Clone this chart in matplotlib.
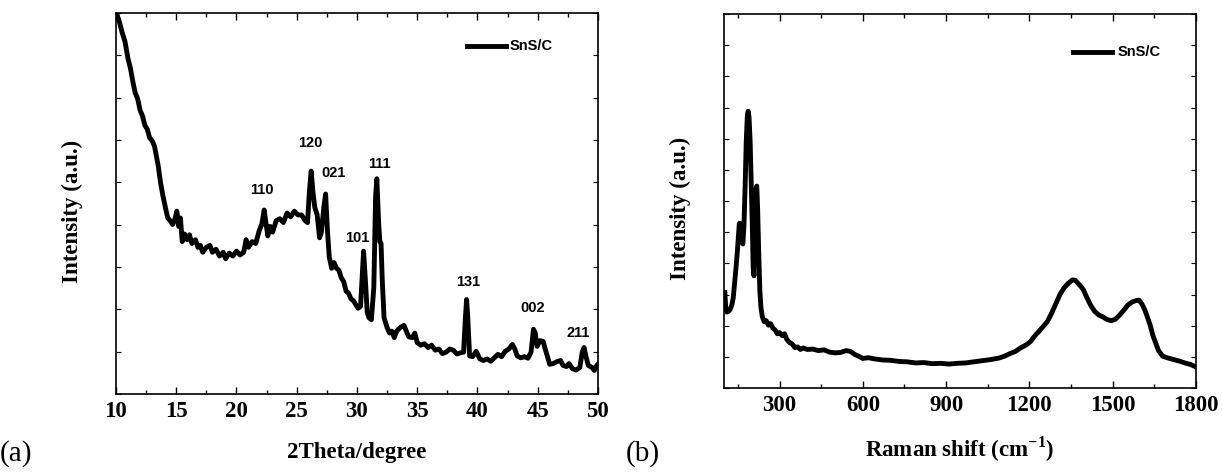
import matplotlib
matplotlib.use("Agg")
import matplotlib.pyplot as plt
from matplotlib.ticker import MultipleLocator, NullFormatter
from matplotlib.font_manager import FontProperties

plt.rcParams["mathtext.fontset"] = "custom"
plt.rcParams["mathtext.rm"] = "Liberation Serif:bold"
plt.rcParams["mathtext.bf"] = "Liberation Serif:bold"

# ---- XRD pattern, panel (a) ----
xrd_2theta = [10.05, 10.3, 10.5, 10.75, 11.0, 11.2, 11.4, 11.6, 11.8, 12.0, 12.2, 12.4, 12.6, 12.8,
              13.0, 13.2, 13.35, 13.5, 13.7, 13.9, 14.1, 14.3, 14.5, 14.7, 14.9, 15.05, 15.2,
              15.35, 15.5, 15.7, 15.9, 16.1, 16.3, 16.6, 16.8, 17.0, 17.2, 17.5, 17.8, 18.0,
              18.3, 18.6, 18.9, 19.1, 19.4, 19.7, 20.0, 20.3, 20.6, 20.8, 21.0, 21.3, 21.6,
              21.9, 22.1, 22.3, 22.45, 22.6, 22.8, 23.0, 23.3, 23.6, 23.9, 24.2, 24.5, 24.8,
              25.1, 25.4, 25.7, 25.9, 26.05, 26.2, 26.35, 26.5, 26.7, 26.9, 27.05, 27.25, 27.4,
              27.55, 27.7, 27.9, 28.1, 28.3, 28.5, 28.7, 28.9, 29.1, 29.3, 29.5, 29.7, 29.9,
              30.1, 30.3, 30.45, 30.55, 30.7, 30.85, 31.0, 31.2, 31.4, 31.55, 31.65, 31.8, 31.9,
              32.0, 32.1, 32.25, 32.5, 32.7, 32.9, 33.1, 33.3, 33.6, 33.9, 34.1, 34.3, 34.6,
              34.8, 35.0, 35.3, 35.6, 35.9, 36.2, 36.5, 36.8, 37.1, 37.4, 37.7, 38.0, 38.3,
              38.6, 38.85, 39.0, 39.1, 39.2, 39.35, 39.6, 39.9, 40.2, 40.5, 40.8, 41.1, 41.4,
              41.7, 42.0, 42.3, 42.6, 42.9, 43.1, 43.3, 43.6, 43.9, 44.2, 44.45, 44.65, 44.8,
              44.95, 45.2, 45.45, 45.7, 46.0, 46.3, 46.6, 46.9, 47.1, 47.4, 47.6, 47.9, 48.2,
              48.5, 48.7, 48.85, 49.0, 49.2, 49.5, 49.7, 49.9, 50.0]
xrd_intensity = [1.0, 0.975, 0.95, 0.925, 0.88, 0.855, 0.82, 0.79, 0.775, 0.745, 0.73, 0.705, 0.695,
                 0.672, 0.665, 0.65, 0.625, 0.6, 0.555, 0.52, 0.49, 0.462, 0.455, 0.445, 0.46, 0.48,
                 0.44, 0.462, 0.40, 0.42, 0.405, 0.418, 0.395, 0.405, 0.385, 0.39, 0.372, 0.385,
                 0.39, 0.372, 0.38, 0.362, 0.372, 0.355, 0.37, 0.362, 0.375, 0.365, 0.372, 0.405,
                 0.385, 0.4, 0.395, 0.43, 0.445, 0.483, 0.45, 0.415, 0.44, 0.425, 0.455, 0.46,
                 0.45, 0.475, 0.465, 0.48, 0.47, 0.47, 0.455, 0.45, 0.53, 0.585, 0.53, 0.49, 0.47,
                 0.41, 0.425, 0.49, 0.525, 0.43, 0.36, 0.33, 0.345, 0.33, 0.325, 0.305, 0.295,
                 0.27, 0.265, 0.25, 0.245, 0.235, 0.225, 0.23, 0.32, 0.375, 0.3, 0.215, 0.2,
                 0.195, 0.28, 0.52, 0.565, 0.45, 0.4, 0.395, 0.3, 0.2, 0.175, 0.16, 0.165, 0.148,
                 0.165, 0.175, 0.18, 0.165, 0.15, 0.148, 0.16, 0.135, 0.128, 0.132, 0.122, 0.128,
                 0.115, 0.118, 0.106, 0.11, 0.118, 0.115, 0.105, 0.108, 0.11, 0.2, 0.248, 0.2,
                 0.1, 0.098, 0.112, 0.092, 0.088, 0.092, 0.086, 0.095, 0.104, 0.098, 0.112, 0.118,
                 0.13, 0.118, 0.1, 0.095, 0.098, 0.094, 0.11, 0.17, 0.16, 0.125, 0.14, 0.138,
                 0.11, 0.078, 0.08, 0.085, 0.088, 0.075, 0.072, 0.08, 0.066, 0.063, 0.07, 0.11,
                 0.122, 0.1, 0.075, 0.07, 0.062, 0.075, 0.078]

peak_labels = ["110", "120", "021", "101", "111", "131", "002", "211"]
peak_label_x = [22.1, 26.1, 28.1, 30.0, 31.9, 39.2, 44.6, 48.4]
peak_label_y = [0.535, 0.658, 0.579, 0.409, 0.605, 0.295, 0.225, 0.16]

# ---- Raman spectrum, panel (b) ----
raman_shift = [103, 106, 110, 116, 122, 128, 133, 138, 143, 148, 152, 155, 158, 161, 165, 168,
               172, 176, 180, 184, 187, 190, 194, 198, 202, 205, 208, 211, 215, 218, 221, 225,
               229, 233, 238, 245, 252, 260, 268, 276, 284, 292, 300, 310, 318, 326, 335, 345,
               355, 365, 375, 385, 400, 420, 440, 460, 480, 500, 520, 540, 555, 570, 585, 600,
               620, 640, 670, 700, 730, 760, 790, 820, 850, 880, 910, 940, 970, 1000, 1030,
               1060, 1090, 1110, 1130, 1150, 1170, 1190, 1205, 1220, 1235, 1250, 1265, 1280,
               1295, 1310, 1325, 1340, 1355, 1365, 1375, 1385, 1395, 1405, 1420, 1435, 1450,
               1465, 1480, 1495, 1510, 1525, 1540, 1555, 1570, 1585, 1595, 1605, 1615, 1625,
               1635, 1645, 1655, 1665, 1680, 1700, 1720, 1740, 1760, 1780, 1795, 1800]
raman_intensity = [0.255, 0.215, 0.203, 0.205, 0.21, 0.222, 0.24, 0.28, 0.32, 0.365, 0.41, 0.44,
                   0.44, 0.42, 0.39, 0.385, 0.44, 0.54, 0.66, 0.73, 0.74, 0.725, 0.66, 0.55, 0.43,
                   0.32, 0.3, 0.42, 0.53, 0.54, 0.48, 0.36, 0.26, 0.215, 0.19, 0.177, 0.18, 0.168,
                   0.172, 0.16, 0.155, 0.145, 0.148, 0.14, 0.145, 0.13, 0.122, 0.118, 0.108, 0.11,
                   0.103, 0.107, 0.103, 0.104, 0.1, 0.102, 0.096, 0.094, 0.095, 0.1, 0.098, 0.09,
                   0.085, 0.079, 0.081, 0.078, 0.075, 0.074, 0.071, 0.07, 0.067, 0.068, 0.065,
                   0.066, 0.064, 0.066, 0.067, 0.07, 0.073, 0.076, 0.08, 0.085, 0.092, 0.098,
                   0.108, 0.116, 0.125, 0.14, 0.152, 0.165, 0.178, 0.2, 0.225, 0.25, 0.268, 0.28,
                   0.289, 0.288, 0.28, 0.272, 0.262, 0.245, 0.222, 0.205, 0.195, 0.19, 0.183,
                   0.18, 0.184, 0.195, 0.208, 0.222, 0.23, 0.234, 0.235, 0.225, 0.21, 0.19, 0.168,
                   0.14, 0.12, 0.1, 0.085, 0.08, 0.076, 0.072, 0.067, 0.063, 0.058, 0.056]

serif_bold = dict(family="Liberation Serif", weight="bold", size=16.5)
tick_font = FontProperties(family="Liberation Serif", weight="bold", size=16.5)
sans_bold = dict(family="Liberation Sans", weight="bold", size=10.5)

fig = plt.figure(figsize=(12.22, 4.73), dpi=100)
ax1 = fig.add_axes([0.0949, 0.167, 0.3944, 0.8055])
ax2 = fig.add_axes([0.5925, 0.1797, 0.3862, 0.7907])


def style_axes(ax, n_ytick):
    for s in ax.spines.values():
        s.set_linewidth(1.2)
    ax.set_yticks([i / n_ytick for i in range(n_ytick + 1)])
    ax.yaxis.set_major_formatter(NullFormatter())
    ax.tick_params(axis="y", which="major", direction="in", length=3.5, width=0.8,
                   left=True, right=True)
    ax.tick_params(axis="x", which="both", direction="in", top=True, bottom=True, width=1)
    ax.tick_params(axis="x", which="major", length=5, pad=5)
    ax.tick_params(axis="x", which="minor", length=3)
    for lab in ax.get_xticklabels():
        lab.set_fontproperties(tick_font)


# panel (a)
ax1.plot(xrd_2theta, xrd_intensity, color="black", lw=3.5, solid_joinstyle="round")
ax1.set_xlim(10, 50)
ax1.set_ylim(0, 1)
ax1.xaxis.set_major_locator(MultipleLocator(5))
ax1.xaxis.set_minor_locator(MultipleLocator(2.5))
style_axes(ax1, 9)
for t, x, y in zip(peak_labels, peak_label_x, peak_label_y):
    ax1.text(x, y, t, ha="center", va="center", fontdict=sans_bold)
ax1.plot([39.1, 42.4], [0.913, 0.913], color="black", lw=3.5)
ax1.text(42.7, 0.913, "SnS/C", ha="left", va="center", fontdict=sans_bold)
ax1.set_xlabel("2Theta/degree", fontdict=serif_bold)
ax1.xaxis.set_label_coords(0.5, -0.125)
ax1.set_ylabel("Intensity (a.u.)", fontdict=serif_bold)
ax1.yaxis.set_label_coords(-0.069, 0.48)

# panel (b)
ax2.plot(raman_shift, raman_intensity, color="black", lw=3.5, solid_joinstyle="round")
ax2.set_xlim(100, 1800)
ax2.set_ylim(0, 1)
ax2.xaxis.set_major_locator(MultipleLocator(300))
ax2.xaxis.set_minor_locator(MultipleLocator(150))
style_axes(ax2, 12)
ax2.plot([1356, 1497], [0.899, 0.899], color="black", lw=3.5)
ax2.text(1519, 0.899, "SnS/C", ha="left", va="center", fontdict=sans_bold)
ax2.set_xlabel("Raman shift (cm$^{\\mathbf{-1}}$)", fontdict=serif_bold)
ax2.xaxis.set_label_coords(0.5, -0.125)
ax2.set_ylabel("Intensity (a.u.)", fontdict=serif_bold)
ax2.yaxis.set_label_coords(-0.07, 0.48)

fig.text(0.0, 0.042, "(a)", family="Liberation Serif", size=21, va="center")
fig.text(0.512, 0.042, "(b)", family="Liberation Serif", size=21, va="center")

fig.savefig("out.png", dpi=100)
